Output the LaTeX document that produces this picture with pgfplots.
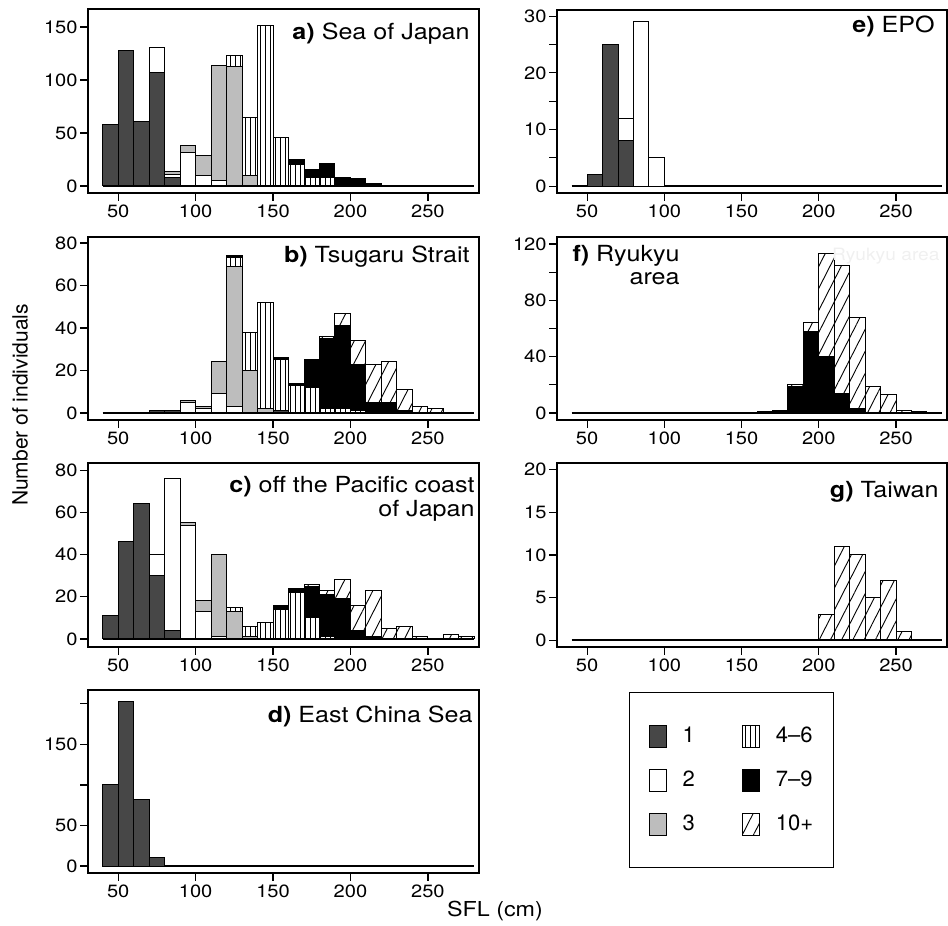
\documentclass[border=0pt]{standalone}
\usepackage{pgfplots}
\pgfplotsset{compat=1.18}
\usepackage{pgfplotstable}
\usetikzlibrary{patterns.meta}
\usepackage{fontspec}
\setmainfont{TeX Gyre Heros}[FakeStretch=1.13]
\newfontfamily\plainfont{TeX Gyre Heros}

\definecolor{cone}{HTML}{474747}
\definecolor{cthree}{HTML}{BDBDBD}

\tikzset{
 k1/.style={fill=cone, draw=black, line width=0.5pt},
 k2/.style={fill=white, draw=black, line width=0.5pt},
 k3/.style={fill=cthree, draw=black, line width=0.5pt},
 k46/.style={draw=black, line width=0.5pt, pattern={Lines[angle=90,distance=2.5pt,line width=0.4pt]}},
 k79/.style={fill=black, draw=black, line width=0.5pt},
 k10/.style={draw=black, line width=0.5pt, pattern={Lines[angle=63,distance=5pt,line width=0.45pt]}},
}

\pgfplotsset{
 panel/.style={
   scale only axis, width=195.5pt,
   xmin=30.5, xmax=283, enlargelimits=false,
   xtick={50,100,150,200,250},
   tick align=outside, xtick pos=bottom, ytick pos=left,
   major tick length=4pt,
   every tick/.style={black, line width=0.6pt},
   axis line style={line width=0.75pt},
   ticklabel style={font=\fontsize{8.9}{10.5}\selectfont},
   /pgf/number format/assume math mode=true,
   yticklabel style={inner xsep=1pt},
   xticklabel style={inner ysep=1.5pt},
   clip=false,
 },
 stk/.style={ybar stacked, bar width=10},
}

\newcommand{\ttl}{\fontsize{11.1}{13}\selectfont}

% x = bin centre (bins of 10 cm), counts by age class
\pgfplotstableread{
x   c1  c2  c3  c46 c79 c10
45  58  0   0   0   0   0
55  128 0   0   0   0   0
65  61  0   0   0   0   0
75  107 24  0   0   0   0
85  8   3   3   0   0   0
95  0   32  6   0   0   0
105 0   10  19  0   0   0
115 0   5   109 0   0   0
125 0   0   113 10  0   0
135 0   0   10  55  0   0
145 0   0   0   151 0   0
155 0   0   0   46  0   0
165 0   0   0   20  5   0
175 0   0   0   8   8   0
185 0   0   0   8   13  0
195 0   0   0   0   8   0
205 0   0   0   0   7   0
215 0   0   0   0   2   0
}\dataA

\pgfplotstableread{
x   c1  c2  c3  c46 c79 c10
75  1   0   0   0   0   0
85  1   0   0   0   0   0
95  0   5   1   0   0   0
105 0   2   1   0   0   0
115 0   9   15  0   0   0
125 0   3   66  4   1   0
135 0   0   20  18  0   0
145 0   0   2   50  0   0
155 1   0   0   24  1   0
165 0   0   0   13  1   0
175 0   0   0   12  13  0
185 0   0   0   2   33  1
195 0   0   0   2   39  6
205 0   0   0   1   22  11
215 0   0   0   0   5   18
225 0   0   0   0   5   19
235 0   0   0   0   1   10
245 0   0   0   0   0   3
255 0   0   0   0   0   2
}\dataB

\pgfplotstableread{
x   c1  c2  c3  c46 c79 c10
45  11  0   0   0   0   0
55  46  0   0   0   0   0
65  64  0   0   0   0   0
75  30  10  0   0   0   0
85  4   72  0   0   0   0
95  0   54  1   0   0   0
105 0   13  5   0   0   0
115 0   1   39  0   0   0
125 0   0   13  2   0   0
135 0   0   1   5   0   0
145 0   0   0   8   0   0
155 0   0   0   14  2   0
165 0   0   0   22  2   0
175 0   0   0   10  15  1
185 0   0   0   1   20  2
195 0   0   0   0   19  9
205 0   0   0   0   4   12
215 0   0   0   0   1   22
225 0   0   0   0   0   5
235 0   0   0   0   0   6
245 0   0   0   0   0   1
255 0   0   0   0   0   0
265 0   0   0   0   0   2
275 0   0   0   0   0   1
}\dataC

\pgfplotstableread{
x   c1
45  100
55  203
65  82
75  11
}\dataD

\pgfplotstableread{
x   c1  c2
55  2   0
65  25  0
75  8   4
85  0   29
95  0   5
}\dataE

\pgfplotstableread{
x   c79 c10
165 1   0
175 2   0
185 19  1
195 58  6
205 40  73
215 14  91
225 3   65
235 0   19
245 0   13
255 0   2
265 0   1
}\dataF

\pgfplotstableread{
x   c10
205 3
215 11
225 10
235 5
245 7
255 1
}\dataG

\begin{document}
\begin{tikzpicture}
\useasboundingbox (0,0) rectangle (474pt,463pt);

% a) Sea of Japan
\begin{axis}[panel, stk, at={(44pt,366.5pt)}, anchor=south west, height=92pt,
  ymin=-6.6, ymax=167, ytick={0,50,100,150}]
\addplot[k1]  table[x=x,y=c1]{\dataA};
\addplot[k2]  table[x=x,y=c2]{\dataA};
\addplot[k3]  table[x=x,y=c3]{\dataA};
\addplot[k46] table[x=x,y=c46]{\dataA};
\addplot[k79] table[x=x,y=c79]{\dataA};
\draw[line width=0.9pt] (axis cs:40,0) -- (axis cs:280,0);
\end{axis}
\node[anchor=base east, inner sep=0pt, font=\ttl] at (235pt,443pt) {\textbf{a)} Sea of Japan};

% b) Tsugaru Strait
\begin{axis}[panel, stk, at={(44pt,253pt)}, anchor=south west, height=91.5pt,
  ymin=-3.3, ymax=82.8, ytick={0,20,40,60,80}]
\addplot[k1]  table[x=x,y=c1]{\dataB};
\addplot[k2]  table[x=x,y=c2]{\dataB};
\addplot[k3]  table[x=x,y=c3]{\dataB};
\addplot[k46] table[x=x,y=c46]{\dataB};
\addplot[k79] table[x=x,y=c79]{\dataB};
\addplot[k10] table[x=x,y=c10]{\dataB};
\draw[line width=0.9pt] (axis cs:40,0) -- (axis cs:280,0);
\end{axis}
\node[anchor=base east, inner sep=0pt, font=\ttl] at (235pt,331.5pt) {\textbf{b)} Tsugaru Strait};

% c) off the Pacific coast of Japan
\begin{axis}[panel, stk, at={(44pt,139.5pt)}, anchor=south west, height=92pt,
  ymin=-3.8, ymax=83.4, ytick={0,20,40,60,80}]
\addplot[k1]  table[x=x,y=c1]{\dataC};
\addplot[k2]  table[x=x,y=c2]{\dataC};
\addplot[k3]  table[x=x,y=c3]{\dataC};
\addplot[k46] table[x=x,y=c46]{\dataC};
\addplot[k79] table[x=x,y=c79]{\dataC};
\addplot[k10] table[x=x,y=c10]{\dataC};
\draw[line width=0.9pt] (axis cs:40,0) -- (axis cs:280,0);
\end{axis}
\node[anchor=base east, inner sep=0pt, font=\ttl] at (237.5pt,216.5pt) {\textbf{c)} off the Pacific coast};
\node[anchor=base east, inner sep=0pt, font=\ttl] at (237.5pt,204.5pt) {of Japan};

% d) East China Sea
\begin{axis}[panel, stk, at={(44pt,26.5pt)}, anchor=south west, height=91.5pt,
  ymin=-8.6, ymax=217, ytick={0,50,100,150,200}, yticklabels={0,50,,150,}]
\addplot[k1]  table[x=x,y=c1]{\dataD};
\draw[line width=0.9pt] (axis cs:40,0) -- (axis cs:280,0);
\end{axis}
\node[anchor=base east, inner sep=0pt, font=\ttl] at (236.5pt,101.5pt) {\textbf{d)} East China Sea};

% e) EPO
\begin{axis}[panel, stk, at={(278.5pt,366.5pt)}, anchor=south west, width=195pt, height=91.5pt,
  ymin=-1.2, ymax=31.1, ytick={0,5,...,30}, yticklabels={0,,10,,20,,30}]
\addplot[k1]  table[x=x,y=c1]{\dataE};
\addplot[k2]  table[x=x,y=c2]{\dataE};
\draw[line width=0.9pt] (axis cs:40,0) -- (axis cs:280,0);
\end{axis}
\node[anchor=base east, inner sep=0pt, font=\ttl] at (467.5pt,446.5pt) {\textbf{e)} EPO};

% f) Ryukyu area
\begin{axis}[panel, stk, at={(278.5pt,253pt)}, anchor=south west, width=195pt, height=91.5pt,
  ymin=-5, ymax=125, ytick={0,20,...,120}, yticklabels={0,,40,,80,,120}]
\addplot[k79] table[x=x,y=c79]{\dataF};
\addplot[k10] table[x=x,y=c10]{\dataF};
\draw[line width=0.9pt] (axis cs:40,0) -- (axis cs:280,0);
\end{axis}
\node[anchor=base east, inner sep=0pt, font=\ttl] at (340pt,332pt) {\textbf{f)} Ryukyu};
\node[anchor=base east, inner sep=0pt, font=\ttl] at (340pt,320.5pt) {area};
\node[anchor=base east, inner sep=0pt, font=\fontsize{8.5}{10}\selectfont, text=black!6] at (470pt,332.5pt) {Ryukyu area};

% g) Taiwan + legend
\begin{axis}[panel, at={(278.5pt,139.5pt)}, anchor=south west, width=195pt, height=92pt,
  ymin=-0.8, ymax=20.8, ytick={0,5,...,20},
  legend image code/.code={\path (-1.5pt,0pt); \draw[#1] (0pt,-5.5pt) rectangle (8.5pt,5.5pt);},
  legend columns=2, legend cell align=left,
  legend style={at={(0.1846,-0.2446)}, anchor=north west, draw=black, line width=0.7pt,
    inner xsep=8pt, inner ysep=15pt, row sep=8.75pt,
    nodes={inner xsep=2pt},
    font=\plainfont\fontsize{11}{13}\selectfont,
    /tikz/every odd column/.style={column sep=6pt},
    /tikz/every even column/.style={column sep=20pt}}]
\addplot[ybar, bar width=10, k10, forget plot] table[x=x,y=c10]{\dataG};
\draw[line width=0.9pt] (axis cs:40,0) -- (axis cs:280,0);
\addlegendimage{k1}  \addlegendentry{1}
\addlegendimage{k46} \addlegendentry{4–6}
\addlegendimage{k2}  \addlegendentry{2}
\addlegendimage{k79} \addlegendentry{7–9}
\addlegendimage{k3}  \addlegendentry{3}
\addlegendimage{k10} \addlegendentry{10+}
\end{axis}
\node[anchor=base east, inner sep=0pt, font=\ttl] at (469.5pt,214pt) {\textbf{g)} Taiwan};

\node[rotate=90, font=\plainfont\fontsize{10.5}{12}\selectfont] at (10pt,260.5pt) {Number of individuals};
\node[anchor=base, font=\fontsize{10.3}{12}\selectfont] at (247.5pt,4.5pt) {SFL (cm)};
\end{tikzpicture}
\end{document}
